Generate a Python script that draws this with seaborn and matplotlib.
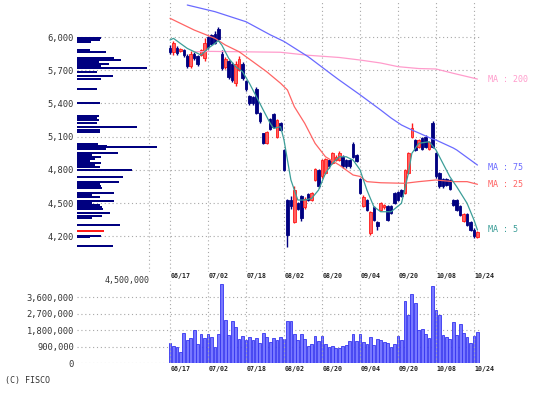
import numpy as np
import pandas as pd
import matplotlib
matplotlib.use("Agg")
import matplotlib.pyplot as plt
import seaborn as sns

# ---------------- data ----------------
date_labels = ["06/17", "07/02", "07/18", "08/02", "08/20", "09/04", "09/20", "10/08", "10/24"]
date_idx = [0, 11, 22, 33, 44, 55, 66, 77, 88]

opens = [5905, 5860, 5900, 5875, 5880, 5830, 5740, 5850, 5830, 5840,
         5810, 6000, 6020, 6030, 6070, 5850, 5730, 5780, 5760, 5580,
         5700, 5760, 5600, 5470, 5460, 5530, 5310, 5130, 5040, 5260,
         5300, 5100, 5220, 4980, 4530, 4530, 4330, 4500, 4560, 4460,
         4580, 4530, 4710, 4800, 4740, 4770, 4890, 4860, 4890, 4890,
         4920, 4890, 4890, 5030, 4930, 4720, 4470, 4530, 4230, 4460,
         4330, 4440, 4460, 4470, 4470, 4590, 4600, 4620, 4590, 4770,
         5100, 5070, 5010, 5085, 5100, 4990, 5220, 4950, 4770, 4720,
         4720, 4710, 4530, 4530, 4470, 4340, 4400, 4330, 4260, 4190]
closes = [5860, 5950, 5855, 5895, 5840, 5740, 5850, 5810, 5760, 5880,
          5950, 5910, 5940, 5950, 5980, 5720, 5800, 5640, 5610, 5760,
          5800, 5630, 5530, 5400, 5400, 5310, 5240, 5040, 5140, 5170,
          5190, 5250, 5160, 4800, 4210, 4470, 4620, 4450, 4360, 4540,
          4530, 4590, 4810, 4650, 4890, 4900, 4830, 4950, 4920, 4950,
          4830, 4830, 4830, 4920, 4880, 4590, 4557, 4440, 4420, 4350,
          4290, 4500, 4480, 4350, 4410, 4500, 4530, 4560, 4800, 4950,
          5175, 4980, 5070, 4990, 5010, 5050, 5010, 4740, 4650, 4650,
          4660, 4630, 4480, 4440, 4390, 4400, 4300, 4260, 4200, 4240]
highs = [5930, 5965, 5915, 5905, 5895, 5845, 5870, 5860, 5840, 5895,
         5990, 6010, 6030, 6050, 6090, 5880, 5815, 5790, 5770, 5780,
         5830, 5770, 5610, 5480, 5470, 5550, 5320, 5135, 5150, 5270,
         5310, 5260, 5230, 4985, 4540, 4560, 4650, 4510, 4570, 4550,
         4590, 4600, 4820, 4810, 4900, 4910, 4900, 4960, 4930, 4970,
         4930, 4900, 4900, 5055, 4940, 4730, 4570, 4540, 4430, 4470,
         4340, 4510, 4490, 4480, 4480, 4600, 4610, 4630, 4810, 4960,
         5220, 5080, 5080, 5095, 5110, 5060, 5240, 4960, 4780, 4730,
         4730, 4720, 4540, 4540, 4480, 4410, 4410, 4340, 4270, 4250]
lows = [5845, 5840, 5840, 5860, 5820, 5720, 5720, 5790, 5740, 5830,
        5780, 5890, 5925, 5940, 5960, 5700, 5710, 5620, 5590, 5560,
        5690, 5610, 5510, 5390, 5385, 5300, 5220, 5030, 5030, 5160,
        5180, 5090, 5150, 4790, 4100, 4450, 4320, 4440, 4340, 4450,
        4520, 4520, 4700, 4640, 4730, 4760, 4820, 4850, 4880, 4880,
        4820, 4820, 4815, 4910, 4870, 4580, 4460, 4430, 4210, 4340,
        4260, 4430, 4450, 4340, 4400, 4490, 4520, 4550, 4580, 4760,
        5090, 4970, 5000, 4980, 5000, 4980, 5000, 4730, 4640, 4640,
        4650, 4620, 4470, 4430, 4380, 4330, 4290, 4250, 4180, 4180]

volumes = [1120000, 940000, 860000, 630000, 1660000, 1260000, 1390000, 1800000, 1030000, 1620000,
           1350000, 1580000, 1440000, 860000, 1620000, 4320000, 2340000, 1530000, 2300000, 2000000,
           1300000, 1480000, 1260000, 1440000, 1260000, 1350000, 1120000, 1660000, 1440000, 1170000,
           1400000, 1260000, 1440000, 1310000, 2290000, 2290000, 1580000, 1260000, 1580000, 1330000,
           940000, 1030000, 1480000, 1200000, 1510000, 1060000, 860000, 940000, 810000, 830000,
           940000, 970000, 1200000, 1580000, 1200000, 1620000, 1170000, 1030000, 1440000, 970000,
           1300000, 1260000, 1170000, 1120000, 860000, 1030000, 1480000, 1260000, 3380000, 2610000,
           3780000, 3280000, 1800000, 1890000, 1620000, 1350000, 4230000, 2880000, 2610000, 1530000,
           1440000, 1300000, 2250000, 1530000, 2120000, 1660000, 1440000, 1120000, 1480000, 1710000]

ma5_idx = [0, 1, 3, 5, 7, 9, 11, 13, 14, 15, 17, 19, 21, 23, 25, 27, 29, 30, 32, 33, 34, 35,
           37, 39, 41, 43, 45, 47, 49, 51, 53, 55, 57, 59, 61, 64, 67, 69, 70, 72, 75, 77,
           79, 81, 83, 86, 88, 89]
ma5_val = [5973, 5988, 5942, 5897, 5867, 5837, 5897, 5942, 5967, 5927, 5807, 5732, 5686, 5581,
           5461, 5340, 5220, 5174, 5190, 5069, 4888, 4708, 4527, 4527, 4542, 4617, 4768, 4858,
           4918, 4918, 4888, 4800, 4617, 4467, 4421, 4421, 4497, 4768, 4948, 5039, 5054, 4979,
           4858, 4738, 4647, 4497, 4346, 4256]

ma25_idx = [0, 7, 13, 16, 20, 24, 28, 32, 34, 36, 39, 42, 45, 49, 53, 55, 57, 61, 68, 72, 77, 82, 86, 89]
ma25_val = [6169, 6063, 5988, 5928, 5867, 5777, 5686, 5582, 5521, 5370, 5220, 5039, 4918, 4843,
            4753, 4740, 4693, 4683, 4678, 4693, 4708, 4693, 4693, 4669]

ma75_idx = [5, 13, 22, 29, 33, 40, 47, 49, 55, 61, 64, 67, 70, 72, 76, 77, 82, 83, 89]
ma75_val = [6289, 6229, 6138, 6020, 5960, 5822, 5657, 5611, 5478, 5340, 5268, 5205, 5160, 5133,
            5078, 5069, 4997, 4979, 4843]

ma200_idx = [7, 12, 32, 40, 49, 55, 61, 66, 72, 77, 82, 89]
ma200_val = [5866, 5870, 5862, 5835, 5815, 5792, 5765, 5732, 5715, 5711, 5672, 5620]

price_ticks = [4200, 4500, 4800, 5100, 5400, 5700, 6000]
price_tick_labels = ["4,200", "4,500", "4,800", "5,100", "5,400", "5,700", "6,000"]
vol_ticks = [0, 900000, 1800000, 2700000, 3600000]
vol_tick_labels = ["0", "900,000", "1,800,000", "2,700,000", "3,600,000"]

profile_price = [5991, 5976, 5958, 5886, 5864, 5813, 5795, 5774, 5753, 5735, 5717, 5687, 5648,
                 5618, 5533, 5407, 5283, 5265, 5247, 5223, 5184, 5160, 5139, 5036, 5018, 5006,
                 4988, 4952, 4934, 4916, 4898, 4880, 4861, 4843, 4825, 4795, 4738, 4687, 4669,
                 4651, 4633, 4590, 4572, 4554, 4518, 4500, 4482, 4464, 4446, 4410, 4386, 4365,
                 4304, 4250, 4205, 4190, 4109]
profile_vol = [1530000, 1420000, 900000, 800000, 1800000, 2300000, 2780000, 1380000, 2010000,
               1530000, 4360000, 1260000, 2260000, 1470000, 1220000, 1420000, 1380000, 1260000,
               1380000, 1220000, 3770000, 1420000, 1420000, 1320000, 1880000, 5020000, 1840000,
               2570000, 960000, 1530000, 1110000, 840000, 1470000, 1110000, 1420000, 3410000,
               2850000, 2620000, 1420000, 1530000, 1590000, 2300000, 960000, 1420000, 2300000,
               960000, 1420000, 1590000, 1630000, 2090000, 1590000, 960000, 2680000, 1680000,
               1470000, 800000, 2260000]
profile_current_price = 4250

# ---------------- style ----------------
sns.set_style("white")
plt.rcParams["font.family"] = ["DejaVu Sans Mono", "DejaVu Sans"]

W, H = 554, 396
fig = plt.figure(figsize=(W / 100, H / 100), dpi=100)
fig.patch.set_facecolor("white")


def rect(l, t, r, b):
    return [l / W, 1 - b / H, (r - l) / W, (b - t) / H]


X0PX, DX = 170.0, 38.0 / 11.0


def px2idx(px):
    return (px - X0PX) / DX


GRID = dict(color="#a8a8a8", linestyle=(0, (1, 2.5)), linewidth=0.8)
NAVY = "#000080"
RED_FACE = "#ff6060"
RED_EDGE = "#ff1a1a"
TXT = "#333333"

# ---------------- price panel ----------------
ax = fig.add_axes(rect(77, 0, 482, 272))
ax.set_xlim(px2idx(77), px2idx(482))
ypp = 300 / 33.2
ax.set_ylim(6000 - (272 - 37) * ypp, 6000 + 37 * ypp)
for s in ax.spines.values():
    s.set_visible(False)
ax.set_yticks(price_ticks)
ax.set_yticklabels(price_tick_labels, fontsize=6.3, color=TXT)
ax.set_xticks(date_idx)
ax.set_xticklabels([])
ax.tick_params(axis="both", length=0)
ax.tick_params(axis="y", pad=2.2)
for p in price_ticks:
    ax.plot([px2idx(77), px2idx(479)], [p, p], zorder=0, **GRID)
for d in date_idx:
    ax.axvline(d, zorder=0, **GRID)

n = len(opens)
for i in range(n):
    o, c, h, l = opens[i], closes[i], highs[i], lows[i]
    up = c >= o
    col = RED_EDGE if up else NAVY
    ax.vlines(i, l, h, color=col, linewidth=1.0, zorder=2)
    ax.bar(i, max(abs(c - o), 6), bottom=min(o, c), width=0.72,
           color=RED_FACE if up else NAVY, edgecolor=col, linewidth=0.6, zorder=3)

ma_specs = [
    (ma200_idx, ma200_val, "#ff9ccc"),
    (ma75_idx, ma75_val, "#6a6aff"),
    (ma25_idx, ma25_val, "#ff6464"),
    (ma5_idx, ma5_val, "#3c9e98"),
]
for idx, val, col in ma_specs:
    df = pd.DataFrame({"i": idx, "v": val})
    sns.lineplot(data=df, x="i", y="v", ax=ax, color=col, linewidth=0.9,
                 estimator=None, sort=False, legend=False, zorder=4)
ax.set_xlabel("")
ax.set_ylabel("")

trans = ax.get_xaxis_transform()
for d, lab in zip(date_idx, date_labels):
    ax.text(d + 0.1, -1.0 / 272, lab, transform=trans, ha="left", va="top",
            fontsize=4.8, fontweight="bold", color="#222222")

# ---------------- volume-by-price profile ----------------
ax2 = ax.twiny()
ax2.set_xlim(0, 4500000 * (482 - 77) / (149 - 77))
for s in ax2.spines.values():
    s.set_visible(False)
ax2.set_xticks([])
ax2.axvline(4500000, zorder=0, **GRID)
prof_colors = ["#ff1a1a" if p == profile_current_price else NAVY for p in profile_price]
ax2.barh(profile_price, profile_vol, height=16, left=0, color=prof_colors, linewidth=0, zorder=2)

# ---------------- volume panel ----------------
axv = fig.add_axes(rect(77, 280.6, 482, 363.3))
axv.set_xlim(px2idx(77), px2idx(482))
axv.set_ylim(0, 4500000)
for s in axv.spines.values():
    s.set_visible(False)
axv.set_yticks(vol_ticks)
axv.set_yticklabels(vol_tick_labels, fontsize=6.3, color=TXT)
axv.set_xticks(date_idx)
axv.set_xticklabels([])
axv.tick_params(axis="both", length=0)
axv.tick_params(axis="y", pad=2.2)
for v in vol_ticks:
    axv.plot([px2idx(77), px2idx(479)], [v, v], zorder=0, **GRID)
for d in date_idx:
    axv.axvline(d, zorder=3, **GRID)
vdf = pd.DataFrame({"i": np.arange(len(volumes)), "vol": volumes})
axv.bar(vdf["i"], vdf["vol"], width=0.78, color="#7878ff", edgecolor="#3434f0",
        linewidth=0.6, zorder=2)
transv = axv.get_xaxis_transform()
for d, lab in zip(date_idx, date_labels):
    axv.text(d + 0.1, -2.5 / 82.7, lab, transform=transv, ha="left", va="top",
             fontsize=4.8, fontweight="bold", color="#222222")

# ---------------- free texts ----------------
fig.text(150 / W, 1 - 280 / H, "4,500,000", ha="right", va="center", fontsize=6.0, color=TXT)
fig.text(5 / W, 1 - 381 / H, "(C) FISCO", ha="left", va="center", fontsize=6.0, color=TXT)
for txt, ypx, col in [("MA : 200", 80, "#ff9ccc"), ("MA : 75", 167, "#6a6aff"),
                      ("MA : 25", 185, "#ff6464"), ("MA : 5", 229, "#3c9e98")]:
    fig.text(488 / W, 1 - ypx / H, txt, ha="left", va="center", fontsize=6.0, color=col)

fig.savefig("out.png", dpi=100, facecolor="white")
